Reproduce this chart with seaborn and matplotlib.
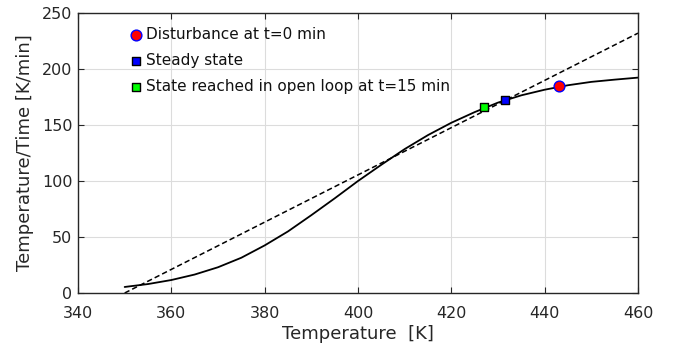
import matplotlib
matplotlib.use("Agg")
import matplotlib.pyplot as plt
import seaborn as sns
import pandas as pd

# Heat generation curve (solid)
temp_curve = [350, 355, 360, 365, 370, 375, 380, 385, 390, 395, 400, 405, 410,
              415, 420, 425, 430, 435, 440, 445, 450, 455, 460]
rate_curve = [5.4, 8.0, 11.6, 16.5, 23.0, 31.5, 42.5, 55.0, 69.5, 84.5, 100.0,
              114.5, 128.5, 141.0, 152.0, 161.5, 170.0, 176.5, 181.5, 185.5,
              188.5, 190.5, 192.3]

# Heat removal line (dashed)
temp_line = [350, 460]
rate_line = [0.0, 232.0]

# Special points
point_labels = ["Disturbance at t=0 min", "Steady state",
                "State reached in open loop at t=15 min"]
point_temp = [443.1, 431.4, 427.1]
point_rate = [184.5, 172.0, 165.8]
point_face = ["#ff0000", "#0000ff", "#00ff00"]
point_edge = ["#0000ff", "#000000", "#000000"]
point_marker = ["o", "s", "s"]
point_size = [60, 38, 38]

sns.set_style("whitegrid")
plt.rcParams['font.family'] = ['DejaVu Sans']

fig = plt.figure(figsize=(6.73, 3.51), dpi=100)
ax = fig.add_axes([0.1159, 0.1652, 0.8321, 0.7978])

curve_df = pd.DataFrame({"T": temp_curve, "R": rate_curve})
line_df = pd.DataFrame({"T": temp_line, "R": rate_line})

sns.lineplot(data=curve_df, x="T", y="R", ax=ax, color="black", linewidth=1.3,
             legend=False)
sns.lineplot(data=line_df, x="T", y="R", ax=ax, color="black", linewidth=1.1,
             linestyle=(0, (3.5, 2)), legend=False)

for lab, t, r, fc, ec, mk, sz in zip(point_labels, point_temp, point_rate,
                                      point_face, point_edge, point_marker, point_size):
    sns.scatterplot(x=[t], y=[r], ax=ax, color=fc, edgecolor=ec, marker=mk,
                    s=sz, linewidth=1.0, label=lab, zorder=5)

ax.set_xlim(340, 460)
ax.set_ylim(0, 250)
ax.set_xticks([340, 360, 380, 400, 420, 440, 460])
ax.set_yticks([0, 50, 100, 150, 200, 250])

ax.grid(True, color="#dcdcdc", linewidth=0.8)
for s in ax.spines.values():
    s.set_visible(True)
    s.set_color("#262626")
    s.set_linewidth(1.0)
ax.tick_params(direction="in", length=4, width=0.8, colors="#262626",
               labelsize=11.5, top=True, right=True, bottom=True, left=True)
ax.tick_params(axis='x', pad=9)
ax.tick_params(axis='y', pad=4)

ax.set_xlabel("Temperature  [K]", fontsize=13, color="#262626", labelpad=3)
ax.set_ylabel("Temperature/Time [K/min]", fontsize=13, color="#262626", labelpad=6)

leg = ax.legend(loc="upper left", bbox_to_anchor=(0.082, 0.97), frameon=False,
                fontsize=11, handlelength=0.8, handletextpad=0.25,
                labelspacing=0.7, borderaxespad=0.0)
for t in leg.get_texts():
    t.set_color("#111111")

fig.savefig("out.png", dpi=100)
